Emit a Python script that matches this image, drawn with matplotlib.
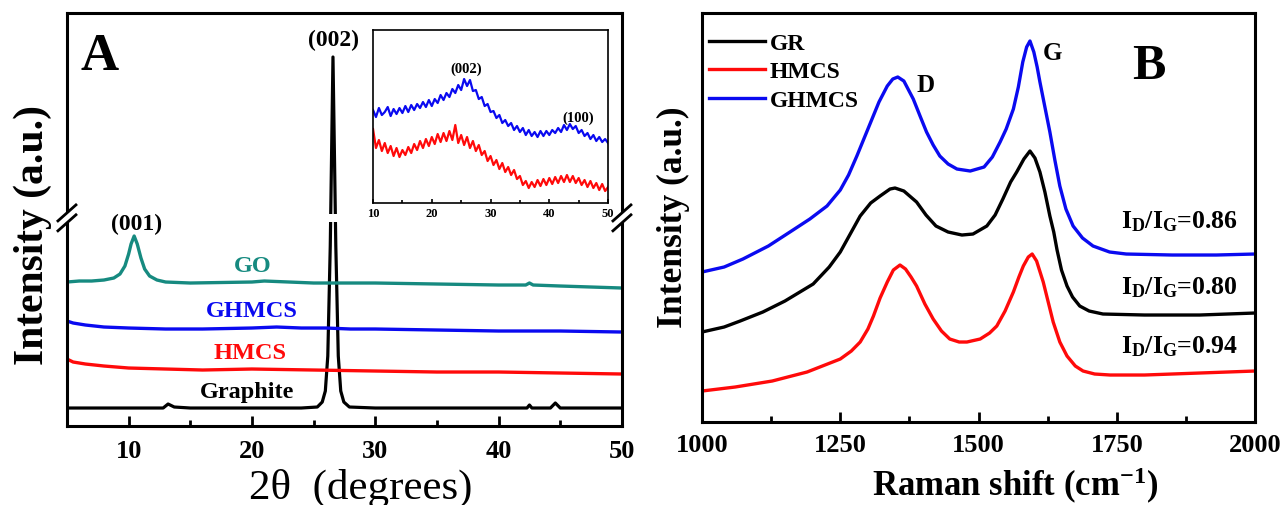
import numpy as np
import matplotlib
matplotlib.use("Agg")
import matplotlib.pyplot as plt
from matplotlib.patches import Rectangle
from matplotlib.ticker import MultipleLocator

plt.rcParams['font.family'] = ['Liberation Serif', 'DejaVu Serif']
plt.rcParams['font.weight'] = 'bold'
plt.rcParams['mathtext.fontset'] = 'custom'
plt.rcParams['mathtext.rm'] = 'Liberation Serif:bold'
plt.rcParams['mathtext.it'] = 'Liberation Serif:bold'
plt.rcParams['mathtext.bf'] = 'Liberation Serif:bold'

# ---------------- XRD (panel A), intensity in a.u. ----------------
graphite_2t = [5, 8, 11, 12.8, 13.2, 13.7, 15, 20, 24, 25.3, 25.7, 25.95, 26.15, 26.35,
               26.57, 26.8, 27.0, 27.2, 27.45, 27.9, 30, 35, 40, 42.3, 42.5, 42.7,
               44.2, 44.6, 45.0, 50]
graphite_i = [18, 18, 18, 18, 22, 19, 18, 18, 18, 19, 24, 35, 70, 180,
              369, 180, 70, 35, 24, 19, 18, 18, 18, 18, 21, 18,
              18, 23, 18, 18]

go_2t = [5, 6, 7, 8, 8.8, 9.3, 9.7, 10.0, 10.2, 10.45, 10.7, 11.0, 11.3, 11.7, 12.3,
         13, 15, 20, 21, 25, 30, 35, 40, 42.2, 42.5, 42.8, 45, 50]
go_i = [144, 145, 145, 146, 148, 152, 160, 172, 182, 190, 182, 168, 157, 150, 146,
        144, 143, 144, 145, 143, 143, 142, 141, 141, 143, 141, 140, 138]

ghmcs_2t = [5, 5.5, 6.5, 8, 10, 13, 16, 20, 22, 24, 26, 28, 30, 35, 40, 45, 50]
ghmcs_i = [105, 103, 101, 99, 98, 97, 97, 98, 99, 98, 98, 97, 97, 96, 95, 95, 94]

hmcs_2t = [5, 5.5, 6.5, 8, 10, 13, 16, 20, 25, 30, 35, 40, 45, 50]
hmcs_i = [67, 64, 62, 60, 58, 57, 56, 57, 56, 55, 54, 54, 53, 52]

# inset: GHMCS and HMCS, 10-50 deg in 0.5 deg steps
inset_2t = np.arange(10, 50.5, 0.5)
inset_ghmcs = [93, 86, 95, 88, 91, 96, 87, 94, 89, 95, 90, 97, 91, 98, 93, 99, 95, 101, 96, 103,
               97, 104, 100, 108, 103, 110, 106, 114, 110, 118, 113, 124, 117, 123, 112, 113,
               104, 106, 97, 99, 91, 92, 85, 88, 80, 83, 77, 80, 73, 77, 71, 75, 68, 73, 67,
               71, 66, 72, 67, 72, 68, 73, 70, 75, 71, 78, 73, 79, 74, 77, 70, 73, 67, 70, 64,
               68, 62, 66, 61, 64, 60]
inset_hmcs = [74, 55, 63, 52, 60, 50, 57, 47, 55, 46, 53, 48, 56, 50, 59, 53, 62, 55, 64, 57,
              66, 59, 69, 61, 70, 62, 72, 63, 78, 60, 68, 58, 66, 55, 62, 52, 58, 48, 52, 42,
              47, 38, 43, 34, 40, 31, 36, 28, 33, 24, 27, 18, 22, 15, 21, 16, 23, 17, 24, 18,
              25, 19, 26, 20, 27, 21, 28, 21, 27, 20, 25, 18, 23, 16, 22, 15, 20, 13, 19, 12, 16]

# ---------------- Raman (panel B) ----------------
gr_shift = [1000, 1040, 1069, 1110, 1150, 1201, 1230, 1250, 1270, 1286, 1305, 1322, 1340,
            1349, 1365, 1388, 1405, 1423, 1445, 1470, 1490, 1515, 1530, 1544, 1558, 1569,
            1582, 1593, 1602, 1611, 1620, 1629, 1636, 1642, 1650, 1660, 1670, 1683, 1700,
            1725, 1800, 1900, 2000]
gr_i = [90, 95, 101, 110, 121, 138, 155, 170, 190, 206, 219, 226, 233,
        234, 231, 220, 207, 196, 190, 187, 188, 196, 207, 223, 240, 250,
        263, 271, 264, 250, 230, 206, 190, 172, 152, 136, 125, 116, 111,
        108, 107, 107, 109]

hm_shift = [1000, 1060, 1127, 1190, 1250, 1270, 1286, 1300, 1310, 1322, 1335, 1346, 1358,
            1368, 1378, 1388, 1403, 1418, 1433, 1448, 1465, 1479, 1503, 1520, 1533, 1548,
            1563, 1573, 1581, 1590, 1597, 1605, 1617, 1626, 1635, 1647, 1660, 1675, 1689,
            1710, 1738, 1800, 1900, 2000]
hm_i = [31, 35, 41, 50, 63, 71, 80, 93, 106, 124, 140, 152, 157,
        153, 145, 136, 118, 103, 91, 83, 80, 80, 83, 89, 96, 111,
        130, 145, 156, 165, 168, 161, 140, 120, 100, 80, 66, 56, 51,
        48, 47, 47, 49, 51]

gh_shift = [1000, 1040, 1074, 1120, 1159, 1195, 1226, 1250, 1265, 1280, 1300, 1320, 1335,
            1345, 1354, 1365, 1382, 1395, 1406, 1418, 1430, 1445, 1461, 1485, 1510, 1525,
            1539, 1550, 1563, 1572, 1580, 1587, 1593, 1600, 1606, 1611, 1620, 1629, 1638,
            1647, 1658, 1671, 1688, 1707, 1737, 1767, 1850, 1930, 2000]
gh_i = [150, 155, 163, 176, 190, 203, 216, 232, 247, 266, 293, 320, 336,
        343, 345, 341, 323, 305, 290, 277, 266, 258, 253, 251, 255, 265,
        280, 293, 313, 335, 360, 375, 381, 370, 355, 340, 315, 290, 262,
        236, 213, 196, 184, 176, 170, 168, 167, 167, 168]

ratio_labels = ['0.86', '0.80', '0.94']
ratio_y = [201, 135, 76]

TEAL = '#168a80'
BLUE = '#0a0af0'
RED = '#ff0a0a'

fig = plt.figure(figsize=(12.85, 5.06), dpi=100)

# ======== panel A ========
axA = fig.add_axes([0.0521, 0.1561, 0.4319, 0.8162])
axA.plot(graphite_2t, graphite_i, color='black', lw=2.3)
axA.plot(hmcs_2t, hmcs_i, color=RED, lw=2.4)
axA.plot(ghmcs_2t, ghmcs_i, color=BLUE, lw=2.4)
axA.plot(go_2t, go_i, color=TEAL, lw=2.4)
axA.set_xlim(5, 50)
axA.set_ylim(0, 413)
axA.set_yticks([])
axA.xaxis.set_major_locator(MultipleLocator(10))
axA.xaxis.set_minor_locator(MultipleLocator(5))
axA.tick_params(axis='x', which='major', direction='in', length=7, width=2,
                labelsize=19, pad=9)
axA.tick_params(axis='x', which='minor', direction='in', length=4, width=2)
for s in axA.spines.values():
    s.set_linewidth(2.2)

axA.set_xlabel('2θ  (degrees)', fontsize=31, fontweight='normal', va='center')
axA.xaxis.set_label_coords(0.53, -0.15)
axA.set_ylabel('Intensity (a.u.)', fontsize=30, fontweight='bold', va='center')
axA.yaxis.set_label_coords(-0.062, 0.465)

axA.text(0.059, 0.896, 'A', transform=axA.transAxes, fontsize=38,
         fontweight='bold', ha='center', va='center')
axA.text(26.65, 387, '(002)', fontsize=17, ha='center', va='center')
axA.text(10.68, 203, '(001)', fontsize=17, ha='center', va='center')
axA.text(20.1, 161, 'GO', fontsize=17.5, color=TEAL, ha='center', va='center')
axA.text(20.0, 116, 'GHMCS', fontsize=17.5, color=BLUE, ha='center', va='center')
axA.text(19.85, 74, 'HMCS', fontsize=17.5, color=RED, ha='center', va='center')
axA.text(19.6, 35, 'Graphite', fontsize=17.5, color='black', ha='center', va='center')

# axis break: gap in the tall graphite peak and both side spines
axA.add_patch(Rectangle((25.6, 204), 1.9, 8, facecolor='white', edgecolor='none', zorder=5))
yb = 0.504
dx, dy = 9 / 555, 8 / 413
for xs in (0, 1):
    axA.add_patch(Rectangle((xs - 0.006, yb - 0.012), 0.012, 0.024, transform=axA.transAxes,
                            facecolor='white', edgecolor='none', clip_on=False, zorder=6))
    for off in (-0.012, 0.012):
        axA.plot([xs - dx, xs + dx], [yb + off - dy, yb + off + dy], transform=axA.transAxes,
                 color='black', lw=2, clip_on=False, zorder=7)

# inset
axI = fig.add_axes([0.2903, 0.5968, 0.1829, 0.3419])
axI.plot(inset_2t, inset_ghmcs, color=BLUE, lw=1.6)
axI.plot(inset_2t, inset_hmcs, color=RED, lw=1.6)
axI.set_xlim(10, 50)
axI.set_ylim(0, 173)
axI.set_yticks([])
axI.xaxis.set_major_locator(MultipleLocator(10))
axI.xaxis.set_minor_locator(MultipleLocator(5))
axI.tick_params(axis='x', which='major', direction='in', length=3, width=1.2,
                labelsize=9, pad=3)
axI.tick_params(axis='x', which='minor', direction='in', length=2, width=1.2)
for s in axI.spines.values():
    s.set_linewidth(1.2)
axI.text(25.8, 135, '(002)', fontsize=10.5, ha='center', va='center')
axI.text(44.9, 86, '(100)', fontsize=10.5, ha='center', va='center')

# ======== panel B ========
axB = fig.add_axes([0.5463, 0.164, 0.4304, 0.8083])
axB.plot(gr_shift, gr_i, color='black', lw=2.4, label='GR')
axB.plot(hm_shift, hm_i, color=RED, lw=2.4, label='HMCS')
axB.plot(gh_shift, gh_i, color=BLUE, lw=2.4, label='GHMCS')
axB.set_xlim(1000, 2000)
axB.set_ylim(0, 409)
axB.set_yticks([])
axB.xaxis.set_major_locator(MultipleLocator(250))
axB.xaxis.set_minor_locator(MultipleLocator(125))
axB.tick_params(axis='x', which='major', direction='in', length=7, width=2,
                labelsize=19, pad=8)
axB.tick_params(axis='x', which='minor', direction='in', length=4, width=2)
for s in axB.spines.values():
    s.set_linewidth(2.2)

axB.set_xlabel(r'Raman shift (cm$^{-1}$)', fontsize=25, fontweight='bold', va='center')
axB.xaxis.set_label_coords(0.566, -0.155)
axB.set_ylabel('Intensity (a.u.)', fontsize=25.5, fontweight='bold', va='center')
axB.yaxis.set_label_coords(-0.052, 0.504)

axB.legend(loc='upper left', bbox_to_anchor=(0.012, 0.953), frameon=False, fontsize=17,
           handlelength=2.4, handletextpad=0.2, labelspacing=0.3, borderpad=0,
           borderaxespad=0)

axB.text(0.808, 0.87, 'B', transform=axB.transAxes, fontsize=36, fontweight='bold',
         ha='center', va='center')
axB.text(1405, 338, 'D', fontsize=18, ha='center', va='center')
axB.text(1633, 370, 'G', fontsize=18, ha='center', va='center')
for lab, y in zip(ratio_labels, ratio_y):
    axB.text(1969, y, r'I$_{\mathrm{D}}$/I$_{\mathrm{G}}$=' + lab, fontsize=18.5,
             ha='right', va='center')

fig.savefig('out.png', dpi=100)
